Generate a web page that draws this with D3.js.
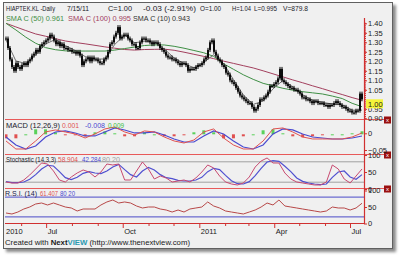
<!DOCTYPE html>
<html>
<head>
<meta charset="utf-8">
<script src="https://d3js.org/d3.v7.min.js"></script>
<style>
  body { margin: 0; background: #fff; }
  svg { display: block; font-family: "Liberation Sans", Arial, sans-serif; }
</style>
</head>
<body>
<svg id="chart" width="402" height="257"></svg>
<script>
// daily closes, HIAPTEK.KL, mid May 2010 .. 15 Jul 2011
const closes = [
  1.32, 1.27, 1.21, 1.17, 1.15, 1.19, 1.17, 1.16, 1.18, 1.19,
  1.18, 1.20, 1.21, 1.23, 1.24, 1.26, 1.25, 1.28, 1.29, 1.30,
  1.31, 1.32, 1.34, 1.33, 1.31, 1.29, 1.30, 1.28, 1.29, 1.27,
  1.27, 1.26, 1.26, 1.25, 1.25, 1.24, 1.25, 1.23, 1.18, 1.20,
  1.21, 1.22, 1.20, 1.22, 1.21, 1.21, 1.20, 1.19, 1.19, 1.21,
  1.22, 1.25, 1.29, 1.30, 1.33, 1.35, 1.38, 1.32, 1.33, 1.34,
  1.34, 1.32, 1.31, 1.29, 1.29, 1.27, 1.27, 1.30, 1.32, 1.32,
  1.31, 1.31, 1.30, 1.29, 1.30, 1.30, 1.29, 1.27, 1.26, 1.25,
  1.23, 1.22, 1.22, 1.21, 1.21, 1.20, 1.19, 1.18, 1.19, 1.19,
  1.18, 1.15, 1.16, 1.16, 1.16, 1.17, 1.18, 1.18, 1.19, 1.21,
  1.22, 1.26, 1.30, 1.31, 1.25, 1.23, 1.21, 1.20, 1.18, 1.17,
  1.14, 1.13, 1.10, 1.09, 1.08, 1.06, 1.04, 1.02, 1.01, 1.00,
  0.99, 0.98, 0.98, 0.96, 0.94, 0.95, 0.97, 1.00, 1.00, 1.01,
  1.02, 1.04, 1.07, 1.07, 1.08, 1.09, 1.11, 1.16, 1.10, 1.09,
  1.08, 1.07, 1.06, 1.06, 1.05, 1.05, 1.04, 1.03, 1.01, 1.01,
  1.00, 1.00, 0.99, 0.98, 0.99, 0.99, 0.98, 0.98, 0.98, 0.97,
  0.97, 0.96, 0.97, 0.97, 0.98, 0.99, 0.98, 0.97, 0.96, 0.96,
  0.95, 0.94, 0.94, 0.93, 0.93, 0.94, 0.94, 1.03, 1.00
];

// moving averages, sampled evenly over the same period
const sma50 = [1.400, 1.365, 1.327, 1.295, 1.272, 1.261, 1.255, 1.254, 1.254, 1.254,
  1.254, 1.259, 1.267, 1.275, 1.283, 1.286, 1.286, 1.279, 1.269, 1.257,
  1.245, 1.226, 1.187, 1.158, 1.129, 1.105, 1.084, 1.071, 1.058, 1.048,
  1.040, 1.034, 1.028, 1.017, 1.004, 0.979, 0.961];
const sma100 = [1.400, 1.381, 1.362, 1.344, 1.332, 1.319, 1.307, 1.299, 1.292, 1.284,
  1.276, 1.269, 1.262, 1.259, 1.262, 1.263, 1.264, 1.258, 1.248, 1.237,
  1.226, 1.214, 1.201, 1.189, 1.177, 1.165, 1.150, 1.134, 1.118, 1.102,
  1.087, 1.071, 1.056, 1.040, 1.025, 1.009, 0.995];
const sma10 = [1.312, 1.202, 1.188, 1.233, 1.291, 1.315, 1.283, 1.257, 1.225, 1.212,
  1.212, 1.289, 1.338, 1.298, 1.304, 1.301, 1.265, 1.218, 1.188, 1.166,
  1.194, 1.235, 1.188, 1.104, 1.023, 0.973, 0.991, 1.055, 1.099, 1.066,
  1.024, 0.995, 0.984, 0.975, 0.972, 0.943, 0.943];

const macd = [-0.023, -0.047, -0.047, -0.023, 0.004, 0.010, 0.004, -0.002, -0.014, -0.002,
  0.013, 0.019, 0.004, -0.005, 0.007, 0.004, -0.011, -0.023, -0.029, -0.020,
  0.004, 0.013, -0.014, -0.035, -0.047, -0.047, -0.023, 0.013, 0.016, 0.004,
  -0.011, -0.017, -0.017, -0.017, -0.017, -0.011, 0.001];
const macdSignal = [-0.011, -0.035, -0.047, -0.038, -0.011, 0.004, 0.007, 0.001, -0.008, -0.008,
  0.004, 0.016, 0.010, 0.001, 0.001, 0.004, -0.005, -0.017, -0.026, -0.026,
  -0.008, 0.007, -0.002, -0.023, -0.041, -0.047, -0.035, -0.002, 0.013, 0.010,
  -0.002, -0.011, -0.014, -0.017, -0.017, -0.014, -0.008];

const stochK = [20.6, 17.6, 17.6, 26.5, 41.2, 58.8, 76.5, 73.5, 52.9, 26.5,
  20.6, 35.3, 47.1, 55.9, 50, 35.3, 50, 73.5, 70.6, 73.5,
  26.5, 26.5, 52.9, 79.4, 58.8, 29.4, 38.2, 32.4, 20.6, 23.5,
  26.5, 20.6, 32.4, 50, 70.6, 61.8, 38.2, 20.6, 14.7, 11.8,
  17.6, 35.3, 64.7, 82.4, 91.2, 76.5, 76.5, 47.1, 29.4, 20.6,
  17.6, 14.7, 11.8, 11.8, 20.6, 70.6, 58.8, 29.4, 17.6, 38.2, 58.9];
const stochD = [22, 19, 18.6, 20.6, 28.4, 42.2, 58.8, 69.6, 67.6, 51,
  33.3, 27.5, 34.3, 46.1, 51, 47.1, 45.1, 52.9, 64.7, 72.5,
  56.9, 42.2, 35.3, 52.9, 63.7, 55.9, 42.2, 33.3, 30.4, 25.5,
  23.5, 23.5, 26.5, 34.3, 51, 60.8, 56.9, 40.2, 24.5, 15.7,
  14.7, 21.6, 39.2, 60.8, 79.4, 83.3, 81.4, 66.7, 51, 32.4,
  22.5, 17.6, 14.7, 12.7, 14.7, 34.3, 50, 52.9, 35.3, 28.4, 42.3];

const rsi = [31.8, 28.8, 34.8, 43.9, 50, 59.1, 62.1, 56.1, 62.1, 56.1,
  50, 47, 37.9, 43.9, 43.9, 43.9, 56.1, 65.2, 71.2, 62.1,
  65.2, 62.1, 53, 47, 50, 50, 43.9, 40.9, 34.8, 40.9,
  34.8, 43.9, 47, 50, 65.2, 53, 47, 37.9, 34.8, 31.8,
  28.8, 34.8, 40.9, 50, 62.1, 56.1, 71.2, 53, 50, 47,
  43.9, 40.9, 37.9, 34.8, 37.9, 50, 47, 47, 40.9, 47, 61.4];

const priceTicks = [1.40, 1.35, 1.30, 1.25, 1.20, 1.15, 1.10, 1.05, 0.95, 0.90];
const monthLabels = ["2011", "", "", "Apr", "", "", "Jul", "", "", "Oct", "", ""];

const svg = d3.select('#chart');
const L = 5, R = 364;

// frame + shadow
const defs = svg.append('defs');
defs.append('filter').attr('id', 'sh')
  .append('feGaussianBlur').attr('stdDeviation', 1.5);
svg.append('rect').attr('x', 6).attr('y', 5).attr('width', 390).attr('height', 247)
  .attr('fill', '#8a8a8a').attr('filter', 'url(#sh)');
svg.append('rect').attr('x', 3.5).attr('y', 2.5).attr('width', 389).attr('height', 246)
  .attr('fill', '#f0f0f0').attr('stroke', '#606060');

// clip paths per panel
function clip(id, y0, y1) {
  defs.append('clipPath').attr('id', id).append('rect')
    .attr('x', L).attr('y', y0).attr('width', R - L).attr('height', y1 - y0);
  return 'url(#' + id + ')';
}

// scales
const xBar = d3.scaleLinear().domain([0, closes.length - 1]).range([6, 362]);
const xInd = n => d3.scaleLinear().domain([0, n - 1]).range([6, 362]);
const xTime = d3.scaleTime().domain([new Date(2010, 4, 12), new Date(2011, 6, 16)]).range([L, 363]);
const yPrice = d3.scaleLinear().domain([0.90, 1.40]).range([118.3, 23.3]);
const yMacd = d3.scaleLinear().domain([-0.05, 0]).range([150, 133.3]);
const yStoch = d3.scaleLinear().domain([0, 100]).range([189, 155]);
const yRsi = d3.scaleLinear().domain([0, 100]).range([223.5, 190.5]);

function seriesLine(g, data, yScale, color, w) {
  const xs = xInd(data.length);
  g.append('path').datum(data)
    .attr('fill', 'none').attr('stroke', color).attr('stroke-width', w || 1)
    .attr('d', d3.line().x((d, i) => xs(i)).y(d => yScale(d)));
}

// ---- price panel
const gp = svg.append('g').attr('clip-path', clip('cp', 3, 119));
seriesLine(gp, sma100, yPrice, '#a3405e');
seriesLine(gp, sma50, yPrice, '#3f8f45');
seriesLine(gp, sma10, yPrice, '#707070');

const candles = gp.append('g');
closes.forEach((c, i) => {
  const o = i > 0 ? closes[i - 1] : c;
  const top = yPrice(Math.max(o, c)), bot = yPrice(Math.min(o, c));
  candles.append('line')
    .attr('x1', xBar(i)).attr('x2', xBar(i))
    .attr('y1', top - 2).attr('y2', bot + 2)
    .attr('stroke', '#000').attr('stroke-width', 1);
  candles.append('rect')
    .attr('x', xBar(i) - 0.9).attr('width', 1.8)
    .attr('y', top).attr('height', Math.max(1, bot - top))
    .attr('fill', '#000');
});

// ---- MACD panel
const gm = svg.append('g').attr('clip-path', clip('cm', 120, 154));
const xm = xInd(macd.length);
macd.forEach((m, i) => {
  const h = m - macdSignal[i];
  gm.append('rect')
    .attr('x', xm(i) - 1.5).attr('width', 3)
    .attr('y', Math.min(yMacd(0), yMacd(h)) + 1).attr('height', Math.max(1, Math.abs(yMacd(h) - yMacd(0))))
    .attr('fill', h >= 0 ? '#5ad15a' : '#e05050');
});
seriesLine(gm, macdSignal, yMacd, '#4a4ad0', 1.2);
seriesLine(gm, macd, yMacd, '#e05050', 1);

// ---- Stochastic panel
const gs = svg.append('g').attr('clip-path', clip('cs', 155, 189));
[80, 20].forEach(v => gs.append('line').attr('x1', L).attr('x2', R)
  .attr('y1', yStoch(v)).attr('y2', yStoch(v)).attr('stroke', '#a0a0a0'));
seriesLine(gs, stochD, yStoch, '#5050d0', 1.2);
seriesLine(gs, stochK, yStoch, '#c84a70', 1);

// ---- RSI panel
const gr = svg.append('g').attr('clip-path', clip('cr', 189, 223));
[80, 20].forEach(v => gr.append('line').attr('x1', L).attr('x2', R)
  .attr('y1', yRsi(v)).attr('y2', yRsi(v)).attr('stroke', '#4a4ac8'));
seriesLine(gr, rsi, yRsi, '#b84848', 1);

// separators with the little close boxes
[119.5, 154.5, 188.5].forEach(y => {
  svg.append('line').attr('x1', L).attr('x2', 384).attr('y1', y).attr('y2', y)
    .attr('stroke', '#e85a5a');
  svg.append('rect').attr('x', 384).attr('y', y - 3).attr('width', 7).attr('height', 7)
    .attr('fill', '#9a1010');
  svg.append('text').attr('x', 387.5).attr('y', y + 2.5).attr('text-anchor', 'middle')
    .attr('font-size', 6).attr('fill', '#fff').text('x');
});

// right axes
function rightAxis(scale, values, fmt) {
  const g = svg.append('g').attr('transform', `translate(${R},0)`)
    .call(d3.axisRight(scale).tickValues(values).tickSize(3).tickPadding(1).tickFormat(fmt));
  g.select('.domain').remove();
  g.selectAll('line').attr('stroke', '#d03030');
  g.selectAll('text').attr('font-size', 7.5).attr('fill', '#202020')
    .attr('font-family', '"Liberation Sans", Arial, sans-serif');
  return g;
}
rightAxis(yPrice, priceTicks, d3.format('.2f'));
rightAxis(yMacd, [0, -0.05], d => d === 0 ? '0' : d3.format('.2f')(d));
rightAxis(yStoch, [100, 50, 0], d3.format('d'));
rightAxis(yRsi, [100, 50, 0], d3.format('d'));

// minor price ticks
svg.append('g').selectAll('line').data(d3.range(90, 141).map(v => v / 100)).join('line')
  .attr('x1', R).attr('x2', R + 2).attr('y1', d => yPrice(d)).attr('y2', d => yPrice(d))
  .attr('stroke', '#d03030');

svg.append('line').attr('x1', R + 0.5).attr('x2', R + 0.5).attr('y1', 18).attr('y2', 224)
  .attr('stroke', '#d03030').attr('stroke-width', 1.2);

// last price marker
const lastY = yPrice(closes[closes.length - 1]);
svg.append('rect').attr('x', 366).attr('y', lastY).attr('width', 17).attr('height', 9)
  .attr('fill', '#f4f43a');
svg.append('text').attr('x', 368).attr('y', lastY + 7.5).attr('font-size', 7.5)
  .attr('fill', '#202020').text(d3.format('.2f')(closes[closes.length - 1]));

// bottom time axis
svg.append('line').attr('x1', L).attr('x2', R).attr('y1', 223.5).attr('y2', 223.5)
  .attr('stroke', '#d03030').attr('stroke-width', 1.2);
const months = d3.timeMonth.range(new Date(2010, 5, 1), new Date(2011, 6, 16));
svg.append('g').selectAll('line').data(months).join('line')
  .attr('x1', d => xTime(d)).attr('x2', d => xTime(d))
  .attr('y1', 223.5).attr('y2', d => monthLabels[d.getMonth()] !== '' ? 228 : 226)
  .attr('stroke', '#d03030');
const labelled = months.filter(d => monthLabels[d.getMonth()] !== '');
svg.append('g').selectAll('text').data(labelled).join('text')
  .attr('x', d => xTime(d) + 1).attr('y', 234).attr('font-size', 7.5).attr('fill', '#202020')
  .text(d => d.getMonth() === 0 ? String(d.getFullYear()) : monthLabels[d.getMonth()]);
svg.append('text').attr('x', 6).attr('y', 234).attr('font-size', 7.5).attr('fill', '#202020')
  .text('2010');

// titles, squeezed to the widths they take in the picture
function label(x, y, txt, color, w) {
  svg.append('text').attr('x', x).attr('y', y).attr('font-size', 8)
    .attr('fill', color).attr('textLength', w).attr('lengthAdjust', 'spacingAndGlyphs')
    .text(txt);
}
label(6, 11, 'HIAPTEK.KL -Daily', '#1a1a2a', 49);
label(67, 11, '7/15/11', '#1a1a2a', 22);
label(108, 11, 'C=1.00', '#1a1a2a', 24);
label(143, 11, '-0.03 (-2.91%)', '#1a1a2a', 53);
label(200, 11, 'O=1.00', '#1a1a2a', 21);
label(232, 11, 'H=1.04', '#1a1a2a', 19);
label(254, 11, 'L=0.995', '#1a1a2a', 23);
label(283, 11, 'V=879.8', '#1a1a2a', 25);
label(6, 21, 'SMA C (50) 0.961', '#3f8f45', 58);
label(68, 21, 'SMA C (100) 0.995', '#a3405e', 63);
label(133, 21, 'SMA C (10) 0.943', '#303030', 57);

label(6, 128, 'MACD (12,26,9)', '#1a1a2a', 54);
label(62, 128, '0.001', '#e05050', 17);
label(85, 128, '-0.008', '#4a4ad0', 20);
label(108, 128, '0.009', '#40c040', 16);

label(6, 162, 'Stochastic (14,3,3)', '#1a1a2a', 50);
label(58, 162, '58.904', '#e05050', 20);
label(82, 162, '42.284', '#4a4ad0', 19);
label(102, 162, '80 20', '#a0a0a0', 18);

label(5, 196, 'R.S.I. (14)', '#1a1a4a', 32);
label(40, 196, '61.407', '#e05050', 18);
label(60, 196, '80 20', '#4a4ad0', 15);

// credit line
const credit = svg.append('text').attr('x', 5).attr('y', 245).attr('font-size', 8).attr('fill', '#1a1a1a')
  .attr('textLength', 185).attr('lengthAdjust', 'spacingAndGlyphs');
credit.append('tspan').text('Created with ');
credit.append('tspan').attr('font-weight', 'bold').text('Next');
credit.append('tspan').attr('font-weight', 'bold').attr('fill', '#2a9ab0').text('VIEW');
credit.append('tspan').text(' (http://www.thenextview.com)');
</script>
</body>
</html>
